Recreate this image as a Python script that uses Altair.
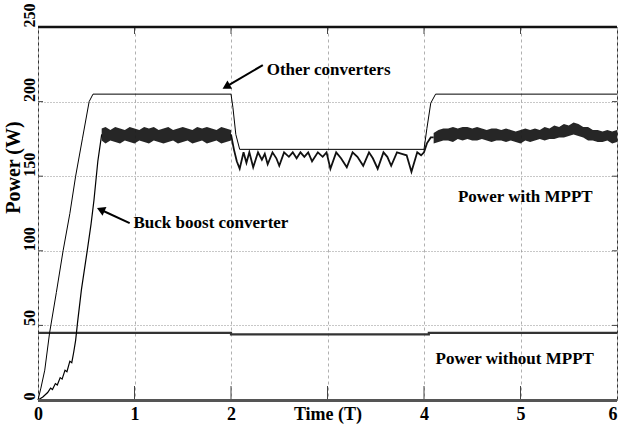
import altair as alt
import pandas as pd

# ---------------- data ----------------
# "Other converters" (thin line)
other_t = [0, 0.03, 0.07, 0.12, 0.19, 0.26, 0.33, 0.39, 0.46, 0.53, 0.57,
           2.0, 2.02, 2.05, 2.09, 4.0, 4.03, 4.07, 4.12, 6.0]
other_p = [0, 8, 20, 45, 72, 100, 125, 150, 175, 200, 205,
           205, 196, 178, 168, 168, 182, 199, 205, 205]

# Buck boost converter: start-up ramp
ramp_t = [0, 0.05, 0.1, 0.13, 0.15, 0.18, 0.2, 0.23, 0.25, 0.28, 0.3, 0.33,
          0.35, 0.37, 0.39, 0.41, 0.45, 0.51, 0.55, 0.58, 0.62, 0.66]
ramp_p = [0, 2, 5, 8, 7, 11, 10, 15, 14, 20, 19, 26,
          25, 32, 40, 52, 74, 100, 118, 134, 160, 178]

# Buck boost converter: noisy plateau 1 (envelope)
p1_t = [0.66, 0.70, 0.75, 0.80, 0.85, 0.90, 0.95, 1.00, 1.05, 1.10, 1.15, 1.20,
        1.25, 1.30, 1.35, 1.40, 1.45, 1.50, 1.55, 1.60, 1.65, 1.70, 1.75, 1.80,
        1.85, 1.90, 1.95, 2.00]
p1_hi = [182, 183, 181, 183, 182, 181, 183, 182, 181, 183, 182, 183,
         181, 182, 183, 181, 182, 183, 182, 181, 183, 182, 183, 182,
         181, 183, 182, 181]
p1_lo = [174, 172, 174, 173, 172, 174, 173, 172, 174, 173, 172, 174,
         173, 172, 173, 174, 172, 173, 174, 172, 173, 174, 172, 173,
         174, 172, 173, 174]

# Buck boost converter: sawtooth during reduced irradiance
saw_t = [2.0, 2.03, 2.06, 2.09, 2.13, 2.16, 2.19, 2.23, 2.28, 2.32, 2.35, 2.38,
         2.43, 2.47, 2.5, 2.55, 2.6, 2.64, 2.68, 2.72, 2.76, 2.8, 2.84, 2.9,
         2.95, 2.99, 3.03, 3.09, 3.14, 3.2, 3.26, 3.31, 3.37, 3.43, 3.47, 3.52,
         3.58, 3.62, 3.66, 3.72, 3.77, 3.82, 3.87, 3.93, 3.97, 4.0, 4.03, 4.07, 4.1]
saw_p = [178, 168, 160, 155, 166, 159, 166, 156, 166, 161, 165, 158,
         166, 162, 157, 166, 163, 166, 162, 166, 163, 166, 160, 166,
         163, 166, 155, 166, 162, 156, 166, 163, 157, 166, 162, 155,
         166, 163, 157, 166, 165, 164, 153, 166, 164, 166, 172, 176, 176]

# Buck boost converter: noisy plateau 2 (envelope)
p2_t = [4.10, 4.15, 4.20, 4.25, 4.30, 4.35, 4.40, 4.45, 4.50, 4.55, 4.60, 4.65,
        4.70, 4.75, 4.80, 4.85, 4.90, 4.95, 5.00, 5.05, 5.10, 5.15, 5.20, 5.25,
        5.30, 5.35, 5.40, 5.45, 5.50, 5.55, 5.60, 5.65, 5.70, 5.75, 5.80, 5.85,
        5.90, 5.95, 6.00]
p2_hi = [179, 181, 182, 182, 183, 182, 183, 183, 182, 183, 182, 181,
         182, 182, 181, 182, 181, 180, 181, 182, 181, 182, 181, 183,
         182, 184, 183, 185, 184, 186, 185, 183, 183, 181, 181, 180,
         181, 180, 181]
p2_lo = [172, 173, 174, 174, 173, 175, 174, 175, 174, 174, 175, 174,
         173, 174, 174, 173, 174, 173, 172, 174, 173, 174, 175, 174,
         175, 175, 176, 176, 177, 178, 177, 176, 174, 174, 173, 173,
         174, 172, 173]

# Power without MPPT
nompp_t = [0, 2.0, 2.0, 4.05, 4.05, 6.0]
nompp_p = [45, 45, 44, 44, 45, 45]

# annotations
label_text = ["Other converters", "Buck boost converter", "Power with MPPT", "Power without MPPT"]
label_t = [2.37, 0.99, 5.05, 4.94]
label_p = [221, 118.5, 136, 27.5]
label_align = ["left", "left", "center", "center"]

arrow_tail_t = [2.33, 0.95]
arrow_tail_p = [224.5, 118.6]
arrow_head_t = [1.95, 0.65]
arrow_head_p = [210, 127.5]
arrow_angle = [241, 294]

x_ticks = [0, 1, 2, 3, 4, 5, 6]
y_ticks = [0, 50, 100, 150, 200, 250]
inner_x_ticks = [1, 2, 3, 4, 5]
inner_y_ticks = [50, 100, 150, 200]

# ---------------- chart ----------------
W, H = 579, 373
FONT = "Liberation Serif"

def seq(ts, ps):
    return pd.DataFrame({"t": ts, "p": ps, "i": list(range(len(ts)))})

x_scale = alt.Scale(domain=[0, 6], nice=False, zero=False)
y_scale = alt.Scale(domain=[0, 250], nice=False, zero=False)

x_axis = alt.Axis(values=x_ticks, title=None,
                  labelExpr="datum.value == 3 ? 'Time (T)' : datum.label",
                  labelAlign={"condition": {"test": "datum.value == 6", "value": "right"},
                              "value": "center"},
                  labelFont=FONT, labelFontSize=18, labelFontWeight="bold",
                  labelColor="black", labelPadding=5, ticks=False, domain=False,
                  grid=True, gridColor="#b0b0b0", gridDash=[3, 3], gridWidth=1,
                  labelFlush=False, labelOverlap=False, labelBound=False)
y_axis = alt.Axis(values=y_ticks, title="Power (W)",
                  labelAngle=270, labelAlign="left", labelBaseline="bottom",
                  labelFont=FONT, labelFontSize=16, labelFontWeight="bold",
                  labelColor="black", labelPadding=1, ticks=False, domain=False,
                  grid=True, gridColor="#909090", gridDash=[1, 2], gridWidth=1,
                  labelFlush=False, labelOverlap=False, labelBound=False,
                  titleFont=FONT, titleFontSize=20, titleFontWeight="bold",
                  titleColor="black", titleAngle=270, titleX=-15, titleY=140,
                  titleAlign="center", titleBaseline="bottom")

X = alt.X("t:Q", scale=x_scale, axis=x_axis)
Y = alt.Y("p:Q", scale=y_scale, axis=y_axis)

other = alt.Chart(seq(other_t, other_p)).mark_line(color="black", strokeWidth=1).encode(
    x=X, y=Y, order="i:Q")

ramp = alt.Chart(seq(ramp_t, ramp_p)).mark_line(color="black", strokeWidth=1.2).encode(
    x=X, y=Y, order="i:Q")

saw = alt.Chart(seq(saw_t, saw_p)).mark_line(color="#111", strokeWidth=1.8).encode(
    x=X, y=Y, order="i:Q")

band1 = alt.Chart(pd.DataFrame({"t": p1_t, "p": p1_hi, "lo": p1_lo})).mark_area(
    color="#1a1a1a", opacity=0.95).encode(x=X, y=Y, y2="lo:Q")
band2 = alt.Chart(pd.DataFrame({"t": p2_t, "p": p2_hi, "lo": p2_lo})).mark_area(
    color="#1a1a1a", opacity=0.95).encode(x=X, y=Y, y2="lo:Q")

nompp = alt.Chart(seq(nompp_t, nompp_p)).mark_line(color="#333", strokeWidth=2.2).encode(
    x=X, y=Y, order="i:Q")

# inner ticks
top_ticks = alt.Chart(pd.DataFrame({"t": inner_x_ticks})).mark_rule(color="#444", strokeWidth=1).encode(
    x=X, y=alt.value(0), y2=alt.value(7))
bot_ticks = alt.Chart(pd.DataFrame({"t": inner_x_ticks})).mark_rule(color="#444", strokeWidth=1).encode(
    x=X, y=alt.value(H), y2=alt.value(H - 14))
left_ticks = alt.Chart(pd.DataFrame({"p": inner_y_ticks})).mark_rule(color="#444", strokeWidth=1).encode(
    y=Y, x=alt.value(0), x2=alt.value(5))
right_ticks = alt.Chart(pd.DataFrame({"p": inner_y_ticks})).mark_rule(color="#444", strokeWidth=1).encode(
    y=Y, x=alt.value(W), x2=alt.value(W - 5))

top_border = alt.Chart(pd.DataFrame({"a": [0]})).mark_rule(color="#111", strokeWidth=2.5).encode(
    y=alt.value(0))
bot_border = alt.Chart(pd.DataFrame({"a": [0]})).mark_rule(color="#555", strokeWidth=3).encode(
    y=alt.value(H + 0.5))

# annotations
lab_df = pd.DataFrame({"t": label_t, "p": label_p, "txt": label_text, "al": label_align})
lab_left = alt.Chart(lab_df[lab_df.al == "left"]).mark_text(
    font=FONT, fontSize=17, fontWeight="bold", color="black", align="left", baseline="middle"
).encode(x=X, y=Y, text="txt:N")
lab_center = alt.Chart(lab_df[lab_df.al == "center"]).mark_text(
    font=FONT, fontSize=17, fontWeight="bold", color="black", align="center", baseline="middle"
).encode(x=X, y=Y, text="txt:N")

arr_df = pd.DataFrame({"t": arrow_tail_t, "p": arrow_tail_p,
                       "t2": arrow_head_t, "p2": arrow_head_p, "ang": arrow_angle})
arr_line = alt.Chart(arr_df).mark_rule(color="black", strokeWidth=2).encode(
    x=X, y=Y, x2="t2:Q", y2="p2:Q")
arr_head = alt.Chart(pd.DataFrame({"t": arrow_head_t, "p": arrow_head_p, "ang": arrow_angle})).mark_point(
    shape="triangle-up", filled=True, size=90, color="black", opacity=1).encode(
    x=X, y=Y, angle=alt.Angle("ang:Q", scale=None))

chart = alt.layer(
    nompp, other, ramp, band1, saw, band2,
    top_ticks, bot_ticks, left_ticks, right_ticks,
    top_border, bot_border,
    arr_line, arr_head, lab_left, lab_center,
).properties(
    width=W, height=H,
    padding={"left": 38, "top": 27, "right": 3, "bottom": 35},
    autosize=alt.AutoSizeParams(type="none"),
    background="white",
).configure_view(stroke="#333", strokeWidth=1)

chart.save("out.html", embed_options={"renderer": "svg", "actions": False})
